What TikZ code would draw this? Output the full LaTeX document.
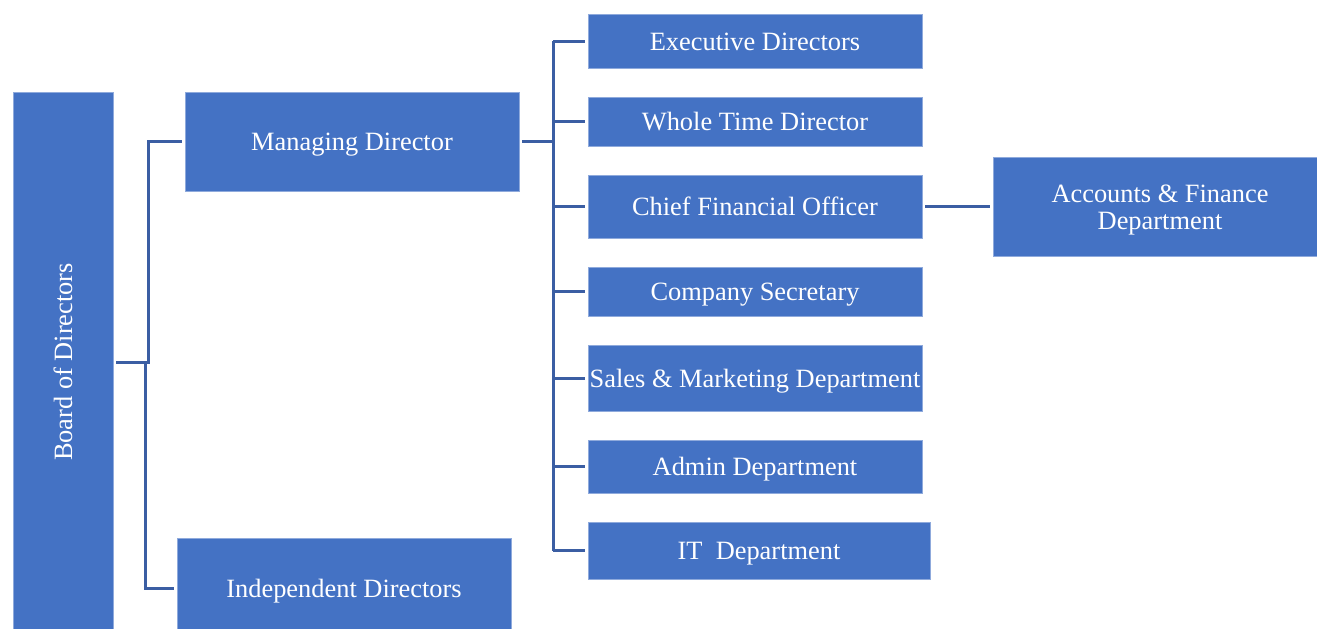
\documentclass[tikz,border=0pt]{standalone}
\usepackage{fontspec}
\setmainfont{Liberation Serif}
\definecolor{boxblue}{HTML}{4472C4}
\definecolor{linkblue}{RGB}{59,94,163}
\definecolor{edgeblue}{HTML}{8FAADC}
\begin{document}
\begin{tikzpicture}[x=0.5pt,y=-0.5pt,
  bx/.style={fill=boxblue,draw=edgeblue,line width=0.4pt,text=white,
    font=\fontsize{13.2pt}{13.5pt}\selectfont,inner sep=0pt,align=center,
    text height=9pt,text depth=0pt},
  conn/.style={draw=linkblue,line width=1.5pt}]
\useasboundingbox (0,0) rectangle (1317,628);
% boxes
\node[bx,minimum width=50pt,minimum height=270pt,text height=,text depth=] (board) at (63,362) {\rotatebox{90}{Board of Directors}};
\node[bx,minimum width=167pt,minimum height=49.5pt] (md) at (352,141.5) {Managing Director};
\node[bx,minimum width=167pt,minimum height=50pt] (ind) at (344,588) {Independent Directors};
\node[bx,minimum width=167pt,minimum height=27pt] (exec) at (755,41) {Executive Directors};
\node[bx,minimum width=167pt,minimum height=24.5pt] (wtd) at (755,121.5) {Whole Time Director};
\node[bx,minimum width=167pt,minimum height=31.5pt] (cfo) at (755,206.5) {Chief Financial Officer};
\node[bx,minimum width=167pt,minimum height=24.5pt] (cs) at (755,291.5) {Company Secretary};
\node[bx,minimum width=167pt,minimum height=33pt] (sales) at (755,378) {Sales \& Marketing Department};
\node[bx,minimum width=167pt,minimum height=26.5pt] (admin) at (755,466.5) {Admin Department};
\node[bx,minimum width=171pt,minimum height=28.5pt] (it) at (759,550.5) {IT\ \ Department};
\node[bx,minimum width=162pt,minimum height=49.5pt,text height=22.5pt,text depth=0pt] (acc) at (1155,206.5) {\shortstack{\hspace*{5pt}Accounts \& Finance\\[1.4pt]\hspace*{5pt}Department}};
% connectors
\draw[conn] ([xshift=1.5pt]board.east) -- ++(32,0) |- ([xshift=-1.5pt]md.west);
\draw[conn] ([xshift=1.5pt]board.east) -- ++(29,0) |- ([xshift=-1.5pt]ind.west);
\draw[conn] ([xshift=1.5pt]md.east) -- ++(31,0) coordinate (hub);
\draw[conn] (hub |- exec.west) -- (hub |- it.west);
\foreach \n in {exec,wtd,cfo,cs,sales,admin,it}
  \draw[conn] (hub |- \n.west) -- ([xshift=-1.5pt]\n.west);
\draw[conn] ([xshift=1.5pt]cfo.east) -- ([xshift=-1.5pt]acc.west);
\end{tikzpicture}
\end{document}
